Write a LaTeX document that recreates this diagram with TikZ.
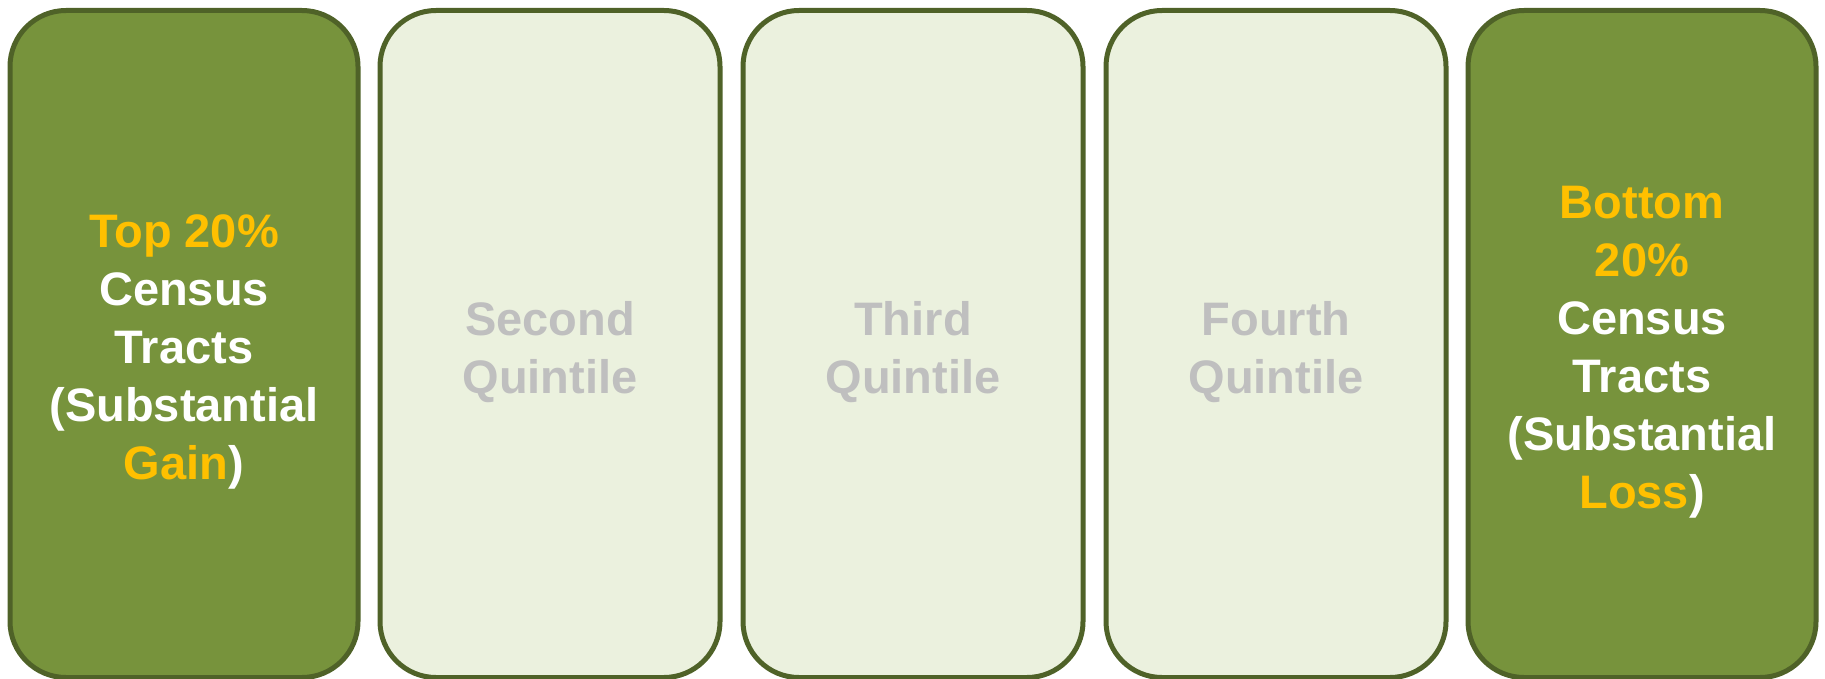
\documentclass[tikz,border=0pt]{standalone}
\usepackage{fontspec}
\setmainfont{Liberation Sans}
\usepackage{xcolor}
\usetikzlibrary{positioning}
\definecolor{darkgreen}{HTML}{77933C}
\definecolor{edgegreen}{HTML}{4F6228}
\definecolor{palegreen}{HTML}{EBF1DE}
\definecolor{gold}{HTML}{FFC000}
\definecolor{softgray}{HTML}{BFBFBF}
\begin{document}
\begin{tikzpicture}[x=1pt, y=-1pt,
    box/.style={draw=edgegreen, line width=5pt, rounded corners=56pt,
      minimum height=667pt, inner sep=0pt},
    endbox/.style={box, fill=darkgreen, minimum width=348pt},
    midbox/.style={box, fill=palegreen, minimum width=340pt},
    boxtext/.style={align=center, inner sep=0pt, yshift=-8pt,
      font=\fontsize{47}{58}\selectfont\bfseries},
    endtext/.style={boxtext, text=white},
    midtext/.style={boxtext, text=softgray}]
  \useasboundingbox (0,0) rectangle (1825,679);
  % boxes
  \node[endbox] (top) at (184,344) {};
  \node[midbox, right=17pt of top] (second) {};
  \node[midbox, right=18pt of second] (third) {};
  \node[midbox, right=18pt of third] (fourth) {};
  \node[endbox, right=17pt of fourth] (bottom) {};
  % texts
  \node[endtext] (toptext) at (top.center)
    {\textcolor{gold}{Top 20\%}\\Census\\Tracts\\(Substantial\\\textcolor{gold}{Gain})};
  \node[midtext] (secondtext) at (second.center) {Second\\Quintile};
  \node[midtext] (thirdtext) at (third.center) {Third\\Quintile};
  \node[midtext] (fourthtext) at (fourth.center) {Fourth\\Quintile};
  \node[endtext] (bottomtext) at (bottom.center)
    {\textcolor{gold}{Bottom}\\\textcolor{gold}{20\%}\\Census\\Tracts\\(Substantial\\\textcolor{gold}{Loss})};
\end{tikzpicture}
\end{document}
